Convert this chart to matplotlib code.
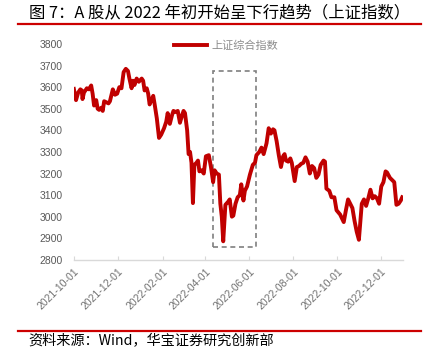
import numpy as np
import pandas as pd
import matplotlib
matplotlib.use("Agg")
import matplotlib.pyplot as plt
import matplotlib.dates as mdates
from matplotlib.patches import Rectangle

plt.rcParams['font.family'] = ['Noto Sans CJK SC', 'DejaVu Sans']

title = "图 7：A 股从 2022 年初开始呈下行趋势（上证指数）"
source = "资料来源：Wind，华宝证券研究创新部"
series_name = "上证综合指数"

dates = [
    "2021-10-01", "2021-10-04", "2021-10-07", "2021-10-10", "2021-10-12", "2021-10-13",
    "2021-10-15", "2021-10-19", "2021-10-22", "2021-10-25", "2021-10-27", "2021-10-29",
    "2021-11-01", "2021-11-03", "2021-11-05", "2021-11-08", "2021-11-10", "2021-11-12",
    "2021-11-15", "2021-11-18", "2021-11-20", "2021-11-24", "2021-11-27", "2021-11-30",
    "2021-12-03", "2021-12-06", "2021-12-09", "2021-12-12", "2021-12-15", "2021-12-17",
    "2021-12-20", "2021-12-22", "2021-12-24", "2021-12-27", "2021-12-30", "2022-01-03",
    "2022-01-05", "2022-01-07", "2022-01-10", "2022-01-12", "2022-01-14", "2022-01-17",
    "2022-01-19", "2022-01-21", "2022-01-24", "2022-01-27", "2022-01-30", "2022-02-03",
    "2022-02-06", "2022-02-08", "2022-02-11", "2022-02-14", "2022-02-16", "2022-02-19",
    "2022-02-22", "2022-02-25", "2022-02-28", "2022-03-02", "2022-03-04", "2022-03-07",
    "2022-03-09", "2022-03-11", "2022-03-13", "2022-03-15", "2022-03-17", "2022-03-20",
    "2022-03-22", "2022-03-24", "2022-03-27", "2022-03-30", "2022-04-02", "2022-04-06",
    "2022-04-09", "2022-04-12", "2022-04-14", "2022-04-17", "2022-04-20", "2022-04-22",
    "2022-04-24", "2022-04-26", "2022-04-29", "2022-05-03", "2022-05-05", "2022-05-08",
    "2022-05-10", "2022-05-13", "2022-05-16", "2022-05-19", "2022-05-21", "2022-05-24",
    "2022-05-26", "2022-05-29", "2022-06-02", "2022-06-06", "2022-06-09", "2022-06-11",
    "2022-06-15", "2022-06-18", "2022-06-21", "2022-06-25", "2022-06-28", "2022-07-01",
    "2022-07-04", "2022-07-06", "2022-07-09", "2022-07-12", "2022-07-15", "2022-07-18",
    "2022-07-20", "2022-07-22", "2022-07-25", "2022-07-28", "2022-07-30", "2022-08-03",
    "2022-08-06", "2022-08-09", "2022-08-12", "2022-08-15", "2022-08-18", "2022-08-21",
    "2022-08-24", "2022-08-27", "2022-08-30", "2022-09-02", "2022-09-05", "2022-09-08",
    "2022-09-12", "2022-09-14", "2022-09-16", "2022-09-20", "2022-09-23", "2022-09-27",
    "2022-09-30", "2022-10-05", "2022-10-10", "2022-10-13", "2022-10-16", "2022-10-19",
    "2022-10-22", "2022-10-25", "2022-10-28", "2022-10-31", "2022-11-04", "2022-11-07",
    "2022-11-10", "2022-11-13", "2022-11-16", "2022-11-19", "2022-11-22", "2022-11-25",
    "2022-11-28", "2022-12-01", "2022-12-04", "2022-12-07", "2022-12-09", "2022-12-13",
    "2022-12-16", "2022-12-19", "2022-12-22", "2022-12-25", "2022-12-28", "2022-12-30",
]
values = [
    3592, 3540, 3575, 3590, 3585, 3545,
    3575, 3595, 3590, 3608, 3570, 3515,
    3540, 3500, 3495, 3505, 3490, 3535,
    3530, 3525, 3535, 3590, 3565, 3570,
    3600, 3595, 3670, 3685, 3675, 3640,
    3595, 3630, 3610, 3640, 3625, 3640,
    3630, 3585, 3595, 3570, 3520, 3545,
    3560, 3520, 3455, 3365, 3380, 3410,
    3440, 3480, 3430, 3470, 3490, 3485,
    3490, 3435, 3470, 3490, 3480, 3400,
    3290, 3300, 3250, 3063, 3240, 3250,
    3260, 3210, 3215, 3200, 3280, 3285,
    3230, 3160, 3215, 3200, 3195, 3060,
    3000, 2886, 3055, 3070, 3080, 3000,
    3005, 3060, 3090, 3100, 3150, 3075,
    3120, 3140, 3195, 3240, 3250, 3285,
    3300, 3320, 3290, 3340, 3410, 3385,
    3405, 3400, 3350, 3285, 3230, 3280,
    3290, 3260, 3255, 3270, 3250, 3165,
    3230, 3235, 3245, 3250, 3275, 3255,
    3200, 3235, 3225, 3180, 3195, 3240,
    3260, 3255, 3130, 3120, 3090, 3090,
    3030, 3010, 2975, 3030, 3080, 3060,
    3040, 2980, 2930, 2893, 3060, 3080,
    3050, 3085, 3125, 3085, 3095, 3085,
    3060, 3140, 3160, 3210, 3205, 3180,
    3170, 3160, 3055, 3060, 3075, 3090,
]

tick_dates = ["2021-10-01", "2021-12-01", "2022-02-01", "2022-04-01",
              "2022-06-01", "2022-08-01", "2022-10-01", "2022-12-01"]
y_ticks = list(range(2800, 3801, 100))

# highlighted window (dashed box)
box_start, box_end = "2022-04-12", "2022-06-11"
box_low, box_high = 2860, 3675

red = "#C00000"
gray_text = "#595959"

x = pd.to_datetime(dates)

fig = plt.figure(figsize=(4.37, 3.55), dpi=100)
ax = fig.add_axes([0.169, 0.268, 0.753, 0.608])

ax.plot(x, values, color=red, linewidth=2.8, label=series_name, solid_joinstyle='round')

x0 = mdates.date2num(pd.Timestamp(box_start))
x1 = mdates.date2num(pd.Timestamp(box_end))
ax.add_patch(Rectangle((x0, box_low), x1 - x0, box_high - box_low, fill=False,
                       edgecolor="#7f7f7f", linewidth=1.2, linestyle=(0, (3, 2.2))))

ax.set_xlim(pd.Timestamp("2021-10-01"), pd.Timestamp("2022-12-31"))
ax.set_ylim(2800, 3800)
ax.set_yticks(y_ticks)
ax.set_xticks(pd.to_datetime(tick_dates))
ax.set_xticklabels(tick_dates, rotation=45, ha='right', rotation_mode='anchor',
                   family='Liberation Sans', fontsize=7.5, color='#6f6f6f')
ax.set_yticklabels([str(v) for v in y_ticks], family='Liberation Sans',
                   fontsize=7.5, color=gray_text)

for s in ['top', 'right', 'left']:
    ax.spines[s].set_visible(False)
ax.spines['bottom'].set_color('#d9d9d9')
ax.spines['bottom'].set_linewidth(1.0)
ax.tick_params(axis='y', length=0, pad=8)
ax.tick_params(axis='x', direction='in', length=3, color='#d9d9d9', pad=5)

leg = ax.legend(loc='upper left', bbox_to_anchor=(0.398, 0.885), bbox_transform=fig.transFigure,
                frameon=False, handlelength=3.0, handletextpad=0.35, borderpad=0,
                borderaxespad=0, prop={'size': 8})
for t in leg.get_texts():
    t.set_color('#8c8c8c')

fig.text(0.066, 0.965, title, fontsize=11.8, fontweight='light', color='black',
         va='center', ha='left')
fig.add_artist(plt.Line2D([0.041, 0.963], [0.931, 0.931], color='#CC0000', linewidth=1.6,
                          transform=fig.transFigure))
fig.add_artist(plt.Line2D([0.041, 0.963], [0.068, 0.068], color='#CC0000', linewidth=1.6,
                          transform=fig.transFigure))
fig.text(0.064, 0.040, source, fontsize=10.2, fontweight='light', color='black',
         va='center', ha='left')

fig.savefig("out.png", dpi=100)
